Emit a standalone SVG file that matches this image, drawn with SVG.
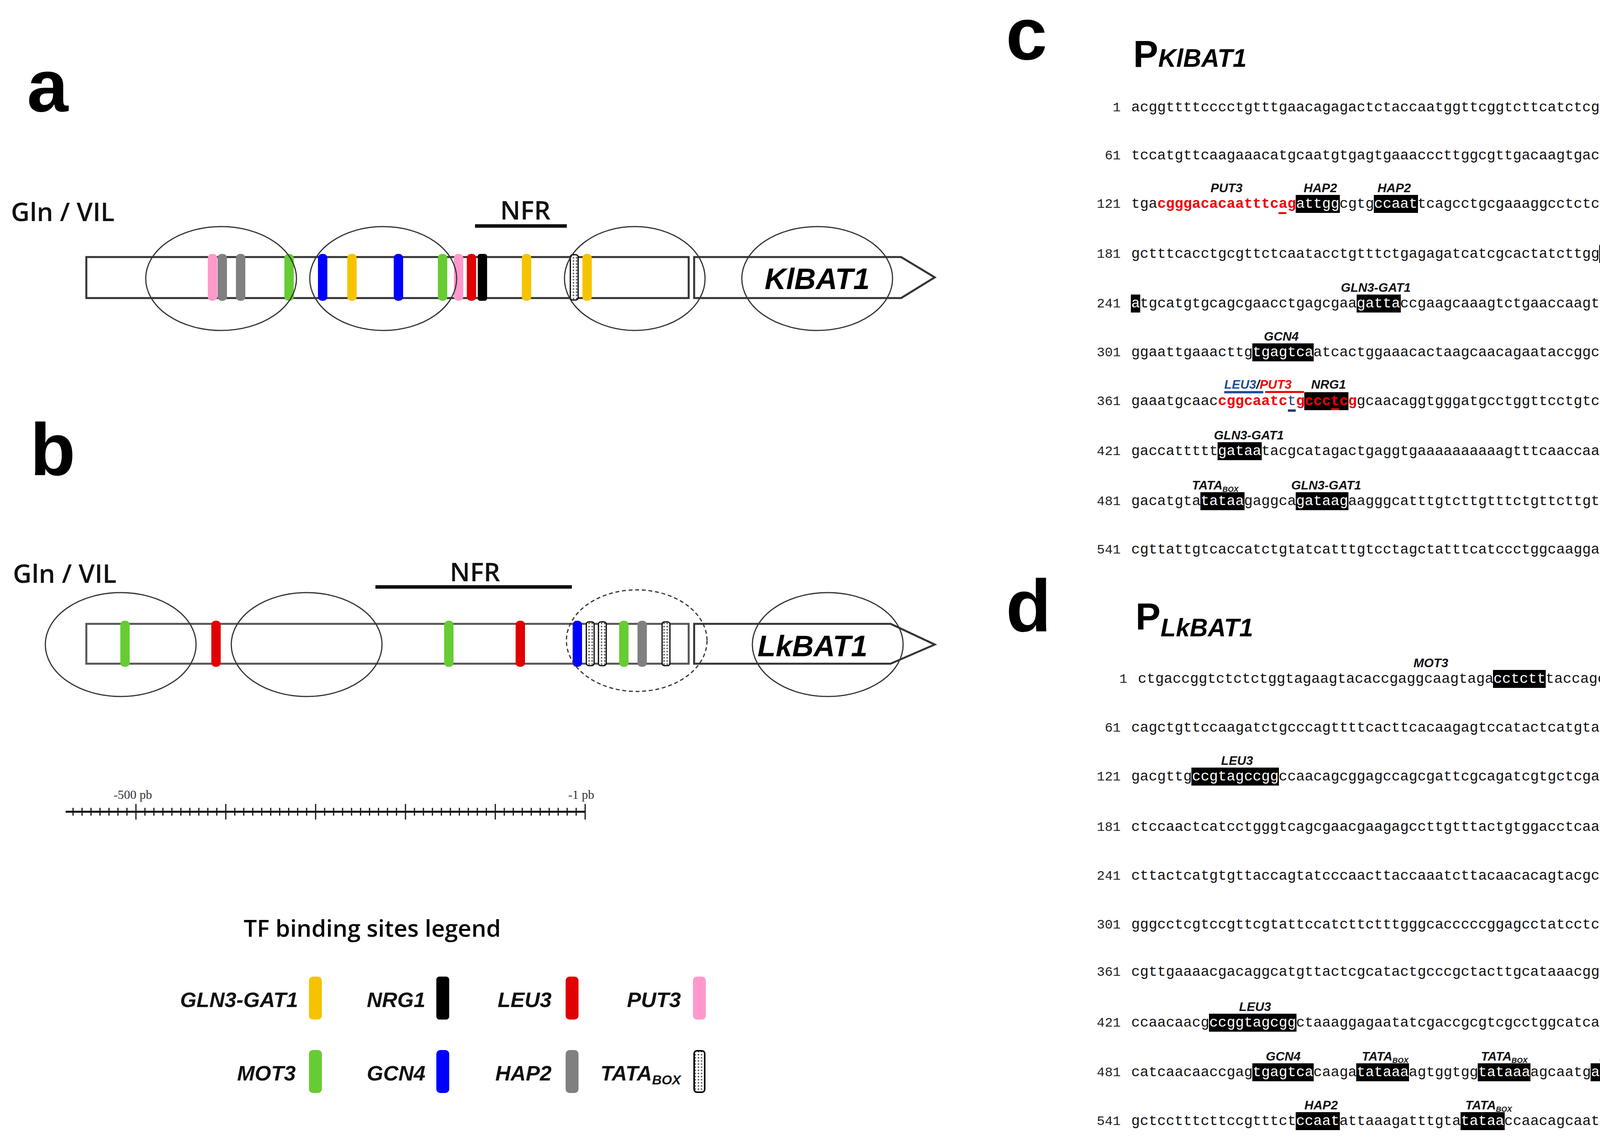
<svg xmlns="http://www.w3.org/2000/svg" width="4333" height="2926" viewBox="0 0 4333 2926">
<style>
.seq{font-family:"Liberation Mono","DejaVu Sans Mono",monospace;font-size:37px;fill:#111;white-space:pre}
.num{font-family:"Liberation Mono",monospace;font-size:34px;fill:#222;text-anchor:end}
.numr{font-family:"Liberation Mono",monospace;font-size:34px;fill:#222}
.w{fill:#fff}
.r{fill:#f00000}
.bl{fill:#1f3a73}
.lab{font-family:"Liberation Sans",Arial,sans-serif;font-weight:bold;font-style:italic;font-size:32px;text-anchor:middle;fill:#111}
.sub{font-size:19px}
.big{font-family:"Liberation Sans",Arial,sans-serif;font-weight:bold;font-size:190px;fill:#000}
.hd{font-family:"Open Sans","Liberation Sans",sans-serif;font-weight:600;font-size:66px;fill:#111}
.gene{font-family:"Liberation Sans",Arial,sans-serif;font-weight:bold;font-style:italic;font-size:76px;text-anchor:middle}
.leg{font-family:"Liberation Sans",Arial,sans-serif;font-weight:bold;font-style:italic;font-size:54px;text-anchor:end;fill:#111}
.ell{fill:none;stroke:#333;stroke-width:3}
.box{fill:#fff;stroke:#333;stroke-width:5}
.hl{fill:#000}
</style>
<defs>
<pattern id="dots" width="8" height="8" patternUnits="userSpaceOnUse">
<rect width="8" height="8" fill="#fff"/><circle cx="4" cy="4" r="2.2" fill="#666"/>
</pattern>
</defs>
<rect width="4333" height="2926" fill="#fff"/>

<!-- panel letters -->
<text class="big" x="69" y="285">a</text>
<text class="big" x="77" y="1216">b</text>
<text class="big" x="2575" y="152">c</text>
<text class="big" x="2575" y="1616">d</text>

<!-- panel a -->
<g id="promoterA">
<text class="hd" x="28" y="566">Gln / VIL</text>
<text class="hd" x="1345" y="562" text-anchor="middle">NFR</text>
<rect x="1216" y="574" width="235" height="9" fill="#111"/>
<rect class="box" x="221" y="658" width="1542" height="105"/>
<polygon class="box" points="1777,658 2307,658 2393,710 2307,763 1777,763"/>
<g>
<rect x="532" y="650" width="24" height="120" rx="10" fill="#ff99cc"/>
<rect x="557" y="650" width="24" height="120" rx="10" fill="#808080"/>
<rect x="604" y="650" width="24" height="120" rx="10" fill="#808080"/>
<rect x="728" y="650" width="24" height="120" rx="10" fill="#66cc33"/>
<rect x="814" y="650" width="24" height="120" rx="10" fill="#0000ff"/>
<rect x="889" y="650" width="24" height="120" rx="10" fill="#f5c400"/>
<rect x="1008" y="650" width="24" height="120" rx="10" fill="#0000ff"/>
<rect x="1121" y="650" width="24" height="120" rx="10" fill="#66cc33"/>
<rect x="1162" y="650" width="24" height="120" rx="10" fill="#ff99cc"/>
<rect x="1195" y="650" width="24" height="120" rx="10" fill="#e00000"/>
<rect x="1223" y="650" width="24" height="120" rx="6" fill="#000"/>
<rect x="1336" y="650" width="24" height="120" rx="10" fill="#f5c400"/>
<rect x="1460" y="652" width="20" height="116" rx="6" fill="url(#dots)" stroke="#000" stroke-width="3"/>
<rect x="1491" y="650" width="24" height="120" rx="10" fill="#f5c400"/>
</g>
<ellipse class="ell" cx="566" cy="713" rx="193" ry="133"/>
<ellipse class="ell" cx="981" cy="713" rx="188" ry="133"/>
<ellipse class="ell" cx="1625" cy="713" rx="180" ry="133"/>
<ellipse class="ell" cx="2092" cy="713" rx="193" ry="133"/>
<text class="gene" x="2092" y="740">KlBAT1</text>
</g>

<!-- panel b -->
<g id="promoterB">
<text class="hd" x="33" y="1492">Gln / VIL</text>
<text class="hd" x="1216" y="1488" text-anchor="middle">NFR</text>
<rect x="961" y="1498" width="503" height="9" fill="#111"/>
<rect class="box" x="221" y="1597" width="1542" height="102" style="stroke:#555"/>
<polygon class="box" points="1777,1597 2280,1597 2393,1650 2280,1699 1777,1699"/>
<g>
<rect x="308" y="1589" width="24" height="118" rx="10" fill="#66cc33"/>
<rect x="541" y="1589" width="24" height="118" rx="10" fill="#e00000"/>
<rect x="1137" y="1589" width="24" height="118" rx="10" fill="#66cc33"/>
<rect x="1320" y="1589" width="24" height="118" rx="10" fill="#e00000"/>
<rect x="1466" y="1589" width="24" height="118" rx="10" fill="#0000ff"/>
<rect x="1501" y="1592" width="20" height="112" rx="6" fill="url(#dots)" stroke="#000" stroke-width="3"/>
<rect x="1532" y="1592" width="20" height="112" rx="6" fill="url(#dots)" stroke="#000" stroke-width="3"/>
<rect x="1585" y="1589" width="24" height="118" rx="10" fill="#66cc33"/>
<rect x="1632" y="1589" width="24" height="118" rx="10" fill="#808080"/>
<rect x="1695" y="1592" width="20" height="112" rx="6" fill="url(#dots)" stroke="#000" stroke-width="3"/>
</g>
<ellipse class="ell" cx="309" cy="1650" rx="193" ry="133"/>
<ellipse class="ell" cx="785" cy="1650" rx="193" ry="133"/>
<ellipse class="ell" cx="1630" cy="1640" rx="180" ry="130" stroke-dasharray="10,7"/>
<ellipse class="ell" cx="2119" cy="1650" rx="193" ry="133"/>
<text class="gene" x="2080" y="1680">LkBAT1</text>
</g>

<!-- scale -->
<g id="scale">
<line x1="168" y1="2078" x2="1498" y2="2078" stroke="#111" stroke-width="5"/>
<path stroke="#111" stroke-width="3" d="M1475 2068v20M1452 2068v20M1429 2068v20M1406 2068v20M1383 2068v20M1360 2068v20M1337 2068v20M1314 2068v20M1291 2068v20M1245 2068v20M1222 2068v20M1199 2068v20M1176 2068v20M1153 2068v20M1130 2068v20M1107 2068v20M1084 2068v20M1061 2068v20M1015 2068v20M992 2068v20M969 2068v20M946 2068v20M923 2068v20M900 2068v20M877 2068v20M854 2068v20M831 2068v20M785 2068v20M762 2068v20M739 2068v20M716 2068v20M693 2068v20M670 2068v20M647 2068v20M624 2068v20M601 2068v20M555 2068v20M532 2068v20M509 2068v20M486 2068v20M463 2068v20M440 2068v20M417 2068v20M394 2068v20M371 2068v20M325 2068v20M302 2068v20M279 2068v20M256 2068v20M233 2068v20M210 2068v20M187 2068v20"/>
<path stroke="#111" stroke-width="3" d="M1498 2058v40M1268 2058v40M1038 2058v40M808 2058v40M578 2058v40M348 2058v40"/>
<text x="340" y="2045" font-family="Liberation Serif,serif" font-size="32" text-anchor="middle" fill="#333">-500 pb</text>
<text x="1488" y="2045" font-family="Liberation Serif,serif" font-size="32" text-anchor="middle" fill="#333">-1 pb</text>
</g>

<!-- legend -->
<g id="legend">
<text x="953" y="2398" font-family="Open Sans,Liberation Sans,sans-serif" font-weight="600" font-size="60" text-anchor="middle">TF binding sites legend</text>
<text class="leg" x="763" y="2578">GLN3-GAT1</text>
<rect x="791" y="2500" width="33" height="110" rx="10" fill="#f5c400"/>
<text class="leg" x="1089" y="2578">NRG1</text>
<rect x="1117" y="2500" width="33" height="110" rx="8" fill="#000"/>
<text class="leg" x="1412" y="2578">LEU3</text>
<rect x="1448" y="2500" width="33" height="110" rx="10" fill="#e00000"/>
<text class="leg" x="1743" y="2578">PUT3</text>
<rect x="1774" y="2500" width="33" height="110" rx="10" fill="#ff99cc"/>
<text class="leg" x="757" y="2766">MOT3</text>
<rect x="791" y="2688" width="33" height="110" rx="10" fill="#66cc33"/>
<text class="leg" x="1089" y="2766">GCN4</text>
<rect x="1117" y="2688" width="33" height="110" rx="10" fill="#0000ff"/>
<text class="leg" x="1412" y="2766">HAP2</text>
<rect x="1448" y="2688" width="33" height="110" rx="10" fill="#808080"/>
<text class="leg" x="1743" y="2766">TATA<tspan font-size="34" dy="10">BOX</tspan></text>
<rect x="1777" y="2690" width="27" height="106" rx="7" fill="url(#dots)" stroke="#000" stroke-width="4"/>
</g>

<!-- panel c -->
<g id="seqC">
<text x="2901" y="171" font-family="Liberation Sans,Arial,sans-serif" font-weight="bold" font-size="96">P<tspan font-size="64" font-style="italic">KlBAT1</tspan></text>
<rect class="hl" x="3317" y="499" width="113" height="46"/>
<rect class="hl" x="3517" y="499" width="113" height="46"/>
<rect class="hl" x="4094" y="627" width="135" height="46"/>
<rect class="hl" x="2895" y="754" width="24" height="46"/>
<rect class="hl" x="3473" y="754" width="113" height="46"/>
<rect class="hl" x="3206" y="879" width="157" height="46"/>
<rect class="hl" x="3339" y="1004" width="113" height="46"/>
<rect class="hl" x="3117" y="1132" width="113" height="46"/>
<rect class="hl" x="3073" y="1260" width="113" height="46"/>
<rect class="hl" x="3317" y="1260" width="135" height="46"/>
<text class="num" x="2869" y="285">1</text><text class="seq" x="2896" y="285">acggttttcccctgtttgaacagagactctaccaatggttcggtcttcatctcgctatgg</text><text class="numr" x="4256" y="285">60</text>
<text class="num" x="2869" y="408">61</text><text class="seq" x="2896" y="408">tccatgttcaagaaacatgcaatgtgagtgaaacccttggcgttgacaagtgacaatgca</text><text class="numr" x="4256" y="408">120</text>
<text class="lab" x="3140" y="492">PUT3</text><text class="lab" x="3380" y="492">HAP2</text><text class="lab" x="3569" y="492">HAP2</text>
<text class="num" x="2869" y="532">121</text><text class="seq" x="2896" y="532">tga<tspan class="r" font-weight="bold">cgggacacaatttcag</tspan><tspan class="w">attgg</tspan>cgtg<tspan class="w">ccaat</tspan>tcagcctgcgaaaggcctctcaacatg</text><text class="numr" x="4256" y="532">180</text>
<rect x="3273" y="543" width="20" height="5" fill="#f00000"/>
<text class="lab" x="4148" y="620">GCN4</text>
<text class="num" x="2869" y="660">181</text><text class="seq" x="2896" y="660">gctttcacctgcgttctcaatacctgtttctgagagatcatcgcactatcttgg<tspan class="w">tgagtc</tspan></text><text class="numr" x="4256" y="660">240</text>
<text class="lab" x="3522" y="747">GLN3-GAT1</text>
<text class="num" x="2869" y="787">241</text><text class="seq" x="2896" y="787"><tspan class="w">a</tspan>tgcatgtgcagcgaacctgagcgaa<tspan class="w">gatta</tspan>ccgaagcaaagtctgaaccaagtacaagt</text><text class="numr" x="4256" y="787">300</text>
<text class="lab" x="3280" y="872">GCN4</text>
<text class="num" x="2869" y="912">301</text><text class="seq" x="2896" y="912">ggaattgaaacttg<tspan class="w">tgagtca</tspan>atcactggaaacactaagcaacagaataccggcttgtag</text><text class="numr" x="4256" y="912">360</text>
<text class="lab" x="3186" y="995" text-anchor="start" style="text-anchor:start" dx="-52"><tspan fill="#1f4e9a">LEU3</tspan>/<tspan fill="#f00000">PUT3</tspan></text>
<rect x="3134" y="1001" width="100" height="6" fill="#1f4e9a"/>
<rect x="3239" y="1001" width="99" height="5" fill="#f00000"/>
<text class="lab" x="3401" y="995">NRG1</text>
<text class="num" x="2869" y="1037">361</text><text class="seq" x="2896" y="1037">gaaatgcaac<tspan class="r" font-weight="bold">cggcaatc</tspan><tspan class="bl">t</tspan><tspan class="r" font-weight="bold">gccctcg</tspan>gcaacaggtgggatgcctggttcctgtctctcga</text><text class="numr" x="4256" y="1037">420</text>
<rect x="3297" y="1048" width="20" height="6" fill="#1f3a73"/>
<rect x="3408" y="1045" width="20" height="5" fill="#f00000"/>
<text class="lab" x="3197" y="1125">GLN3-GAT1</text>
<text class="num" x="2869" y="1165">421</text><text class="seq" x="2896" y="1165">gaccattttt<tspan class="w">gataa</tspan>tacgcatagactgaggtgaaaaaaaaaagtttcaaccaactgat</text><text class="numr" x="4256" y="1165">480</text>
<text class="lab" x="3111" y="1253">TATA<tspan class="sub" dy="6">BOX</tspan></text><text class="lab" x="3395" y="1253">GLN3-GAT1</text>
<text class="num" x="2869" y="1293">481</text><text class="seq" x="2896" y="1293">gacatgta<tspan class="w">tataa</tspan>gaggca<tspan class="w">gataag</tspan>aagggcatttgtcttgtttctgttcttgtttggcc</text><text class="numr" x="4256" y="1293">540</text>
<text class="num" x="2869" y="1417">541</text><text class="seq" x="2896" y="1417">cgttattgtcaccatctgtatcatttgtcctagctatttcatccctggcaaggaacattc</text><text class="numr" x="4256" y="1417">600</text>
</g>

<!-- panel d -->
<g id="seqD">
<text x="2907" y="1611" font-family="Liberation Sans,Arial,sans-serif" font-weight="bold" font-size="96">P<tspan font-size="64" font-style="italic" dy="18">LkBAT1</tspan></text>
<rect class="hl" x="3822" y="1715" width="135" height="46"/>
<rect class="hl" x="3050" y="1965" width="224" height="46"/>
<rect class="hl" x="3095" y="2595" width="224" height="46"/>
<rect class="hl" x="3206" y="2722" width="157" height="46"/>
<rect class="hl" x="3472" y="2722" width="135" height="46"/>
<rect class="hl" x="3783" y="2722" width="135" height="46"/>
<rect class="hl" x="4072" y="2722" width="135" height="46"/>
<rect class="hl" x="3317" y="2847" width="113" height="46"/>
<rect class="hl" x="3739" y="2847" width="113" height="46"/>
<text class="lab" x="3663" y="1708">MOT3</text>
<text class="num" x="2886" y="1748">1</text><text class="seq" x="2913" y="1748">ctgaccggtctctctggtagaagtacaccgaggcaagtaga<tspan class="w">cctctt</tspan>taccagcatcaaa</text><text class="numr" x="4264" y="1748">60</text>
<text class="num" x="2869" y="1873">61</text><text class="seq" x="2896" y="1873">cagctgttccaagatctgcccagttttcacttcacaagagtccatactcatgtagcatgc</text><text class="numr" x="4256" y="1873">120</text>
<text class="lab" x="3167" y="1958">LEU3</text>
<text class="num" x="2869" y="1998">121</text><text class="seq" x="2896" y="1998">gacgttg<tspan class="w">ccgtagccgg</tspan>ccaacagcggagccagcgattcgcagatcgtgctcgactgccg</text><text class="numr" x="4256" y="1998">180</text>
<text class="num" x="2869" y="2127">181</text><text class="seq" x="2896" y="2127">ctccaactcatcctgggtcagcgaacgaagagccttgtttactgtggacctcaacgcagt</text><text class="numr" x="4256" y="2127">240</text>
<text class="num" x="2869" y="2252">241</text><text class="seq" x="2896" y="2252">cttactcatgtgttaccagtatcccaacttaccaaatcttacaacacagtacgcattcta</text><text class="numr" x="4256" y="2252">300</text>
<text class="num" x="2869" y="2377">301</text><text class="seq" x="2896" y="2377">gggcctcgtccgttcgtattccatcttctttgggcacccccggagcctatcctcgagtca</text><text class="numr" x="4256" y="2377">360</text>
<text class="num" x="2869" y="2498">361</text><text class="seq" x="2896" y="2498">cgttgaaaacgacaggcatgttactcgcatactgcccgctacttgcataaacggtggaag</text><text class="numr" x="4256" y="2498">420</text>
<text class="lab" x="3213" y="2588">LEU3</text>
<text class="num" x="2869" y="2628">421</text><text class="seq" x="2896" y="2628">ccaacaacg<tspan class="w">ccggtagcgg</tspan>ctaaaggagaatatcgaccgcgtcgcctggcatcaattctc</text><text class="numr" x="4256" y="2628">480</text>
<text class="lab" x="3285" y="2715">GCN4</text><text class="lab" x="3546" y="2715">TATA<tspan class="sub" dy="6">BOX</tspan></text><text class="lab" x="3851" y="2715">TATA<tspan class="sub" dy="6">BOX</tspan></text><text class="lab" x="4139" y="2715">MOT3</text>
<text class="num" x="2869" y="2755">481</text><text class="seq" x="2896" y="2755">catcaacaaccgag<tspan class="w">tgagtca</tspan>caaga<tspan class="w">tataaa</tspan>agtggtgg<tspan class="w">tataaa</tspan>agcaatg<tspan class="w">atcctt</tspan>g</text><text class="numr" x="4256" y="2755">540</text>
<text class="lab" x="3382" y="2840">HAP2</text><text class="lab" x="3811" y="2840">TATA<tspan class="sub" dy="6">BOX</tspan></text>
<text class="num" x="2869" y="2880">541</text><text class="seq" x="2896" y="2880">gctcctttcttccgtttct<tspan class="w">ccaat</tspan>attaaagatttgta<tspan class="w">tataa</tspan>ccaacagcaatcacgaa</text><text class="numr" x="4256" y="2880">600</text>
</g>
</svg>
